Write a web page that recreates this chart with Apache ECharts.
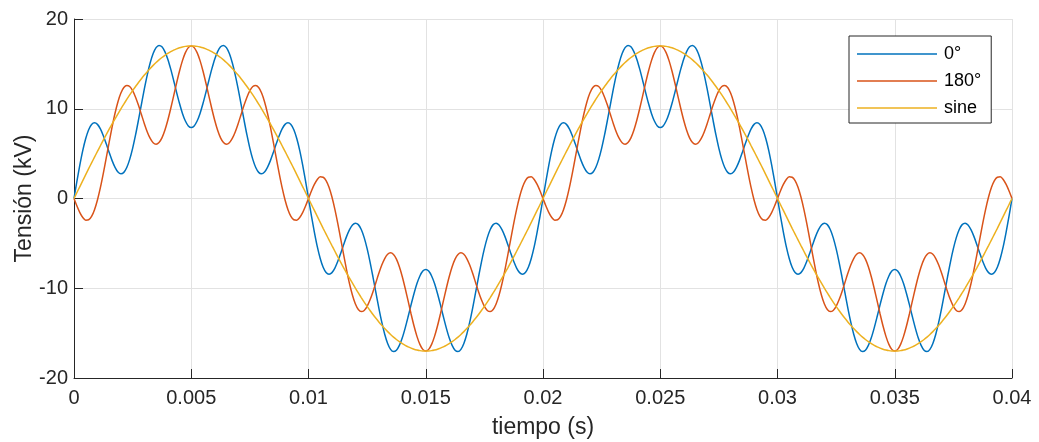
<!DOCTYPE html>
<html><head><meta charset="utf-8">
<script src="https://cdn.jsdelivr.net/npm/echarts@6/dist/echarts.min.js"></script>
<style>html,body{margin:0;padding:0;background:#fff}#c{width:1039px;height:442px}</style>
</head><body><div id="c"></div>
<script>
const seriesNames = ['0°', '180°', 'sine'];
const xTickLabels = ['0', '0.005', '0.01', '0.015', '0.02', '0.025', '0.03', '0.035', '0.04'];
const yTickLabels = ['-20', '-10', '0', '10', '20'];
const sampleStep = 0.000125; // s between samples

const v0 = [
0,
1.93, 3.74, 5.36, 6.68, 7.66, 8.24, 8.43, 8.26, 7.75, 7.00,
6.10, 5.13, 4.22, 3.47, 2.95, 2.75, 2.91, 3.45, 4.36, 5.59,
7.08, 8.75, 10.49, 12.21, 13.78, 15.12, 16.15, 16.81, 17.06, 16.91,
16.37, 15.52, 14.41, 13.15, 11.83, 10.58, 9.48, 8.63, 8.09, 7.90,
8.09, 8.63, 9.48, 10.58, 11.83, 13.15, 14.41, 15.52, 16.37, 16.91,
17.06, 16.81, 16.15, 15.12, 13.78, 12.21, 10.49, 8.75, 7.08, 5.59,
4.36, 3.45, 2.91, 2.75, 2.95, 3.47, 4.22, 5.13, 6.10, 7.00,
7.75, 8.26, 8.43, 8.24, 7.66, 6.68, 5.36, 3.74, 1.93, 0,
-1.93, -3.74, -5.36, -6.68, -7.66, -8.24, -8.43, -8.26, -7.75, -7.00,
-6.10, -5.13, -4.22, -3.47, -2.95, -2.75, -2.91, -3.45, -4.36, -5.59,
-7.08, -8.75, -10.49, -12.21, -13.78, -15.12, -16.15, -16.81, -17.06, -16.91,
-16.37, -15.52, -14.41, -13.15, -11.83, -10.58, -9.48, -8.63, -8.09, -7.90,
-8.09, -8.63, -9.48, -10.58, -11.83, -13.15, -14.41, -15.52, -16.37, -16.91,
-17.06, -16.81, -16.15, -15.12, -13.78, -12.21, -10.49, -8.75, -7.08, -5.59,
-4.36, -3.45, -2.91, -2.75, -2.95, -3.47, -4.22, -5.13, -6.10, -7.00,
-7.75, -8.26, -8.43, -8.24, -7.66, -6.68, -5.36, -3.74, -1.93, 0,
1.93, 3.74, 5.36, 6.68, 7.66, 8.24, 8.43, 8.26, 7.75, 7.00,
6.10, 5.13, 4.22, 3.47, 2.95, 2.75, 2.91, 3.45, 4.36, 5.59,
7.08, 8.75, 10.49, 12.21, 13.78, 15.12, 16.15, 16.81, 17.06, 16.91,
16.37, 15.52, 14.41, 13.15, 11.83, 10.58, 9.48, 8.63, 8.09, 7.90,
8.09, 8.63, 9.48, 10.58, 11.83, 13.15, 14.41, 15.52, 16.37, 16.91,
17.06, 16.81, 16.15, 15.12, 13.78, 12.21, 10.49, 8.75, 7.08, 5.59,
4.36, 3.45, 2.91, 2.75, 2.95, 3.47, 4.22, 5.13, 6.10, 7.00,
7.75, 8.26, 8.43, 8.24, 7.66, 6.68, 5.36, 3.74, 1.93, 0,
-1.93, -3.74, -5.36, -6.68, -7.66, -8.24, -8.43, -8.26, -7.75, -7.00,
-6.10, -5.13, -4.22, -3.47, -2.95, -2.75, -2.91, -3.45, -4.36, -5.59,
-7.08, -8.75, -10.49, -12.21, -13.78, -15.12, -16.15, -16.81, -17.06, -16.91,
-16.37, -15.52, -14.41, -13.15, -11.83, -10.58, -9.48, -8.63, -8.09, -7.90,
-8.09, -8.63, -9.48, -10.58, -11.83, -13.15, -14.41, -15.52, -16.37, -16.91,
-17.06, -16.81, -16.15, -15.12, -13.78, -12.21, -10.49, -8.75, -7.08, -5.59,
-4.36, -3.45, -2.91, -2.75, -2.95, -3.47, -4.22, -5.13, -6.10, -7.00,
-7.75, -8.26, -8.43, -8.24, -7.66, -6.68, -5.36, -3.74, -1.93, 0
];

const v180 = [
0,
-0.84, -1.57, -2.12, -2.41, -2.37, -1.99, -1.24, -0.16, 1.21, 2.80,
4.52, 6.28, 7.97, 9.50, 10.78, 11.75, 12.36, 12.60, 12.48, 12.02,
11.29, 10.38, 9.36, 8.34, 7.42, 6.69, 6.21, 6.05, 6.24, 6.76,
7.61, 8.72, 10.03, 11.44, 12.87, 14.21, 15.36, 16.25, 16.81, 17.00,
16.81, 16.25, 15.36, 14.21, 12.87, 11.44, 10.03, 8.72, 7.61, 6.76,
6.24, 6.05, 6.21, 6.69, 7.42, 8.34, 9.36, 10.38, 11.29, 12.02,
12.48, 12.60, 12.36, 11.75, 10.78, 9.50, 7.97, 6.28, 4.52, 2.80,
1.21, -0.16, -1.24, -1.99, -2.37, -2.41, -2.12, -1.57, -0.84, 0,
0.84, 1.57, 2.12, 2.41, 2.37, 1.99, 1.24, 0.16, -1.21, -2.80,
-4.52, -6.28, -7.97, -9.50, -10.78, -11.75, -12.36, -12.60, -12.48, -12.02,
-11.29, -10.38, -9.36, -8.34, -7.42, -6.69, -6.21, -6.05, -6.24, -6.76,
-7.61, -8.72, -10.03, -11.44, -12.87, -14.21, -15.36, -16.25, -16.81, -17.00,
-16.81, -16.25, -15.36, -14.21, -12.87, -11.44, -10.03, -8.72, -7.61, -6.76,
-6.24, -6.05, -6.21, -6.69, -7.42, -8.34, -9.36, -10.38, -11.29, -12.02,
-12.48, -12.60, -12.36, -11.75, -10.78, -9.50, -7.97, -6.28, -4.52, -2.80,
-1.21, 0.16, 1.24, 1.99, 2.37, 2.41, 2.12, 1.57, 0.84, 0,
-0.84, -1.57, -2.12, -2.41, -2.37, -1.99, -1.24, -0.16, 1.21, 2.80,
4.52, 6.28, 7.97, 9.50, 10.78, 11.75, 12.36, 12.60, 12.48, 12.02,
11.29, 10.38, 9.36, 8.34, 7.42, 6.69, 6.21, 6.05, 6.24, 6.76,
7.61, 8.72, 10.03, 11.44, 12.87, 14.21, 15.36, 16.25, 16.81, 17.00,
16.81, 16.25, 15.36, 14.21, 12.87, 11.44, 10.03, 8.72, 7.61, 6.76,
6.24, 6.05, 6.21, 6.69, 7.42, 8.34, 9.36, 10.38, 11.29, 12.02,
12.48, 12.60, 12.36, 11.75, 10.78, 9.50, 7.97, 6.28, 4.52, 2.80,
1.21, -0.16, -1.24, -1.99, -2.37, -2.41, -2.12, -1.57, -0.84, 0,
0.84, 1.57, 2.12, 2.41, 2.37, 1.99, 1.24, 0.16, -1.21, -2.80,
-4.52, -6.28, -7.97, -9.50, -10.78, -11.75, -12.36, -12.60, -12.48, -12.02,
-11.29, -10.38, -9.36, -8.34, -7.42, -6.69, -6.21, -6.05, -6.24, -6.76,
-7.61, -8.72, -10.03, -11.44, -12.87, -14.21, -15.36, -16.25, -16.81, -17.00,
-16.81, -16.25, -15.36, -14.21, -12.87, -11.44, -10.03, -8.72, -7.61, -6.76,
-6.24, -6.05, -6.21, -6.69, -7.42, -8.34, -9.36, -10.38, -11.29, -12.02,
-12.48, -12.60, -12.36, -11.75, -10.78, -9.50, -7.97, -6.28, -4.52, -2.80,
-1.21, 0.16, 1.24, 1.99, 2.37, 2.41, 2.12, 1.57, 0.84, 0
];

const vSine = [
0,
0.67, 1.33, 2.00, 2.66, 3.32, 3.97, 4.61, 5.25, 5.88, 6.51,
7.12, 7.72, 8.31, 8.88, 9.44, 9.99, 10.52, 11.04, 11.54, 12.02,
12.48, 12.93, 13.35, 13.75, 14.13, 14.49, 14.83, 15.15, 15.44, 15.71,
15.95, 16.17, 16.36, 16.53, 16.67, 16.79, 16.88, 16.95, 16.99, 17.00,
16.99, 16.95, 16.88, 16.79, 16.67, 16.53, 16.36, 16.17, 15.95, 15.71,
15.44, 15.15, 14.83, 14.49, 14.13, 13.75, 13.35, 12.93, 12.48, 12.02,
11.54, 11.04, 10.52, 9.99, 9.44, 8.88, 8.31, 7.72, 7.12, 6.51,
5.88, 5.25, 4.61, 3.97, 3.32, 2.66, 2.00, 1.33, 0.67, 0,
-0.67, -1.33, -2.00, -2.66, -3.32, -3.97, -4.61, -5.25, -5.88, -6.51,
-7.12, -7.72, -8.31, -8.88, -9.44, -9.99, -10.52, -11.04, -11.54, -12.02,
-12.48, -12.93, -13.35, -13.75, -14.13, -14.49, -14.83, -15.15, -15.44, -15.71,
-15.95, -16.17, -16.36, -16.53, -16.67, -16.79, -16.88, -16.95, -16.99, -17.00,
-16.99, -16.95, -16.88, -16.79, -16.67, -16.53, -16.36, -16.17, -15.95, -15.71,
-15.44, -15.15, -14.83, -14.49, -14.13, -13.75, -13.35, -12.93, -12.48, -12.02,
-11.54, -11.04, -10.52, -9.99, -9.44, -8.88, -8.31, -7.72, -7.12, -6.51,
-5.88, -5.25, -4.61, -3.97, -3.32, -2.66, -2.00, -1.33, -0.67, 0,
0.67, 1.33, 2.00, 2.66, 3.32, 3.97, 4.61, 5.25, 5.88, 6.51,
7.12, 7.72, 8.31, 8.88, 9.44, 9.99, 10.52, 11.04, 11.54, 12.02,
12.48, 12.93, 13.35, 13.75, 14.13, 14.49, 14.83, 15.15, 15.44, 15.71,
15.95, 16.17, 16.36, 16.53, 16.67, 16.79, 16.88, 16.95, 16.99, 17.00,
16.99, 16.95, 16.88, 16.79, 16.67, 16.53, 16.36, 16.17, 15.95, 15.71,
15.44, 15.15, 14.83, 14.49, 14.13, 13.75, 13.35, 12.93, 12.48, 12.02,
11.54, 11.04, 10.52, 9.99, 9.44, 8.88, 8.31, 7.72, 7.12, 6.51,
5.88, 5.25, 4.61, 3.97, 3.32, 2.66, 2.00, 1.33, 0.67, 0,
-0.67, -1.33, -2.00, -2.66, -3.32, -3.97, -4.61, -5.25, -5.88, -6.51,
-7.12, -7.72, -8.31, -8.88, -9.44, -9.99, -10.52, -11.04, -11.54, -12.02,
-12.48, -12.93, -13.35, -13.75, -14.13, -14.49, -14.83, -15.15, -15.44, -15.71,
-15.95, -16.17, -16.36, -16.53, -16.67, -16.79, -16.88, -16.95, -16.99, -17.00,
-16.99, -16.95, -16.88, -16.79, -16.67, -16.53, -16.36, -16.17, -15.95, -15.71,
-15.44, -15.15, -14.83, -14.49, -14.13, -13.75, -13.35, -12.93, -12.48, -12.02,
-11.54, -11.04, -10.52, -9.99, -9.44, -8.88, -8.31, -7.72, -7.12, -6.51,
-5.88, -5.25, -4.61, -3.97, -3.32, -2.66, -2.00, -1.33, -0.67, 0
];

const colors = ['#0072BD', '#D95319', '#EDB120'];
const FONT = "'Liberation Sans', Arial, Helvetica, sans-serif";
const AX = '#262626';
const LEGEND_ICON = 'path://M0,0H80V1.5H0Z';

function pairs(vals) {
  return vals.map((v, i) => [+(i * sampleStep).toFixed(7), v]);
}

const chart = echarts.init(document.getElementById('c'), null, { renderer: 'canvas' });
chart.setOption({
  animation: false,
  backgroundColor: '#ffffff',
  textStyle: { fontFamily: FONT },
  grid: { left: 74, right: 27, top: 19, bottom: 64, containLabel: false, outerBoundsMode: 'none' },
  legend: {
    orient: 'vertical',
    left: 849, top: 36,
    data: seriesNames.map(n => ({ name: n, icon: LEGEND_ICON })),
    symbolKeepAspect: true,
    backgroundColor: '#ffffff',
    borderColor: AX, borderWidth: 1,
    padding: [9, 10, 6, 8],
    itemWidth: 80, itemHeight: 18, itemGap: 9,
    textStyle: { fontFamily: FONT, fontSize: 18, color: '#000', lineHeight: 18, padding: [0, 0, 0, 2] }
  },
  xAxis: {
    type: 'value', min: 0, max: 0.04, interval: 0.005,
    name: 'tiempo (s)', nameLocation: 'middle', nameGap: 38, nameMoveOverlap: false,
    nameTextStyle: { fontFamily: FONT, fontSize: 23, color: AX },
    axisLine: { onZero: false, lineStyle: { color: AX, width: 1 } },
    axisTick: { inside: true, length: 9, lineStyle: { color: AX } },
    axisLabel: { margin: 10, fontSize: 20, color: AX, fontFamily: FONT,
      formatter: v => xTickLabels[Math.round(v / 0.005)] },
    splitLine: { show: true, lineStyle: { color: '#e2e2e2', width: 1 } }
  },
  yAxis: {
    type: 'value', min: -20, max: 20, interval: 10,
    name: 'Tensión (kV)', nameLocation: 'middle', nameGap: 38, nameRotate: 90, nameMoveOverlap: false,
    nameTextStyle: { fontFamily: FONT, fontSize: 23, color: AX },
    axisLine: { show: true, onZero: false, lineStyle: { color: AX, width: 1 } },
    axisTick: { show: true, inside: true, length: 9, lineStyle: { color: AX } },
    axisLabel: { margin: 6, fontSize: 20, color: AX, fontFamily: FONT,
      formatter: v => yTickLabels[Math.round((v + 20) / 10)] },
    splitLine: { show: true, lineStyle: { color: '#e2e2e2', width: 1 } }
  },
  series: [v0, v180, vSine].map((vals, k) => ({
    name: seriesNames[k],
    type: 'line',
    data: pairs(vals),
    smooth: 0.3,
    symbol: 'none',
    showSymbol: false,
    lineStyle: { color: colors[k], width: 1.5 },
    itemStyle: { color: colors[k] },
    z: 2 + k
  }))
});
</script>
</body></html>
